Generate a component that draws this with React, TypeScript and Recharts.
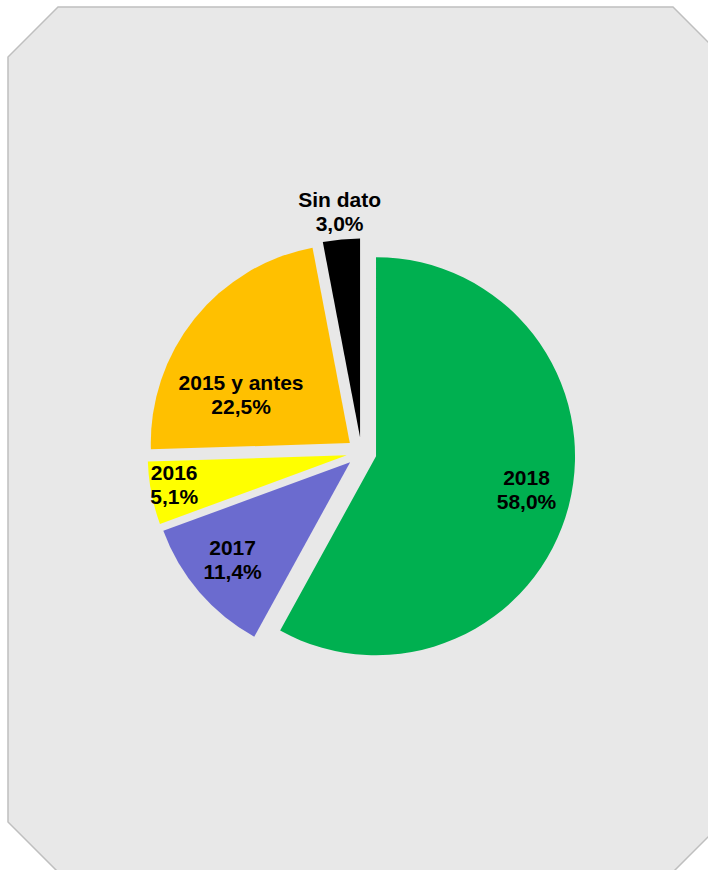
import React from "react";
import { PieChart, Pie, Cell, Sector } from "recharts";

const categories = ["2018", "2017", "2016", "2015 y antes", "Sin dato"];
const shares = [58.0, 11.4, 5.1, 22.5, 3.0];
const sliceColors = ["#00b050", "#6b6bcf", "#ffff00", "#ffc000", "#000000"];

// where each label sits: distance from centre and a small angular nudge (deg, clockwise)
const labelPlacement = [
  { r: 169, shift: -1.9 },
  { r: 167, shift: 1.2 },
  { r: 190, shift: 1.4 },
  { r: 134, shift: -12.7 },
  { r: 242, shift: 0.2 },
];

const pieData = categories.map((name, i) => ({ name, value: shares[i] }));

const EXPLODE = 15;
const RAD = Math.PI / 180;
const FONT = "'Liberation Sans', Arial, sans-serif";

const fmtPct = (v: number) => v.toFixed(1).replace(".", ",") + "%";

const ExplodedSlice = (props: any) => {
  const { cx, cy, midAngle } = props;
  const dx = EXPLODE * Math.cos(-midAngle * RAD);
  const dy = EXPLODE * Math.sin(-midAngle * RAD);
  return <Sector {...props} cx={cx + dx} cy={cy + dy} stroke="none" />;
};

const renderLabel = (props: any) => {
  const { cx, cy, midAngle, index } = props;
  const { r, shift } = labelPlacement[index];
  const a = (midAngle - shift) * RAD;
  const x = cx + r * Math.cos(-a);
  const y = cy + r * Math.sin(-a);
  return (
    <text
      x={x}
      y={y}
      textAnchor="middle"
      dominantBaseline="central"
      fontFamily={FONT}
      fontWeight="bold"
      fontSize={21}
      fill="#000"
    >
      <tspan x={x} y={y - 12}>
        {categories[index]}
      </tspan>
      <tspan x={x} y={y + 12}>
        {fmtPct(shares[index])}
      </tspan>
    </text>
  );
};

export default function App() {
  return (
    <div
      style={{
        position: "absolute",
        left: 0,
        top: 0,
        width: 708,
        height: 870,
        overflow: "hidden",
      }}
    >
      <svg
        width={708}
        height={870}
        style={{ position: "absolute", left: 0, top: 0 }}
      >
        <polygon
          points="58,7 673,7 723,57 723,822 673,872 58,872 8,822 8,57"
          fill="#e8e8e8"
          stroke="#bfbfbf"
          strokeWidth={1.5}
        />
      </svg>
      <div style={{ position: "absolute", left: 0, top: 0 }}>
        <PieChart
          width={708}
          height={870}
          margin={{ top: 0, right: 0, bottom: 0, left: 0 }}
        >
          <Pie
            data={pieData}
            dataKey="value"
            nameKey="name"
            cx={361.5}
            cy={452.5}
            outerRadius={199}
            startAngle={90}
            endAngle={-270}
            stroke="none"
            shape={ExplodedSlice}
            label={renderLabel}
            labelLine={false}
            isAnimationActive={false}
          >
            {pieData.map((d, i) => (
              <Cell key={d.name} fill={sliceColors[i]} />
            ))}
          </Pie>
        </PieChart>
      </div>
    </div>
  );
}
